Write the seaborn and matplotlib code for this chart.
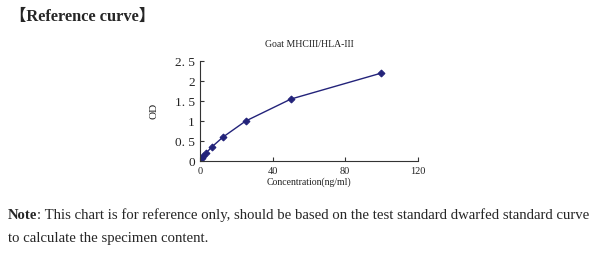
import matplotlib
matplotlib.use("Agg")
import matplotlib.pyplot as plt
import seaborn as sns
import pandas as pd

conc = [0, 0.78, 1.56, 3.125, 6.25, 12.5, 25, 50, 100]
od = [0.05, 0.08, 0.12, 0.2, 0.35, 0.6, 1.0, 1.55, 2.2]
xticks = [0, 40, 80, 120]
yticks = [0, 0.5, 1, 1.5, 2, 2.5]
ytick_labels = ["0", "0. 5", "1", "1. 5", "2", "2. 5"]

sns.set_theme(style="white")
plt.rcParams['font.family'] = ['Liberation Serif', 'DejaVu Serif']

df = pd.DataFrame({"conc": conc, "od": od})
fig = plt.figure(figsize=(6, 2.61), dpi=100)
ax = fig.add_axes([0.334, 0.383, 0.362, 0.383])
color = "#23237a"
sns.lineplot(data=df, x="conc", y="od", ax=ax, color=color, linewidth=1.0,
             marker="D", markersize=3.5, markeredgecolor=color, markerfacecolor=color)
ax.set_xlim(0, 120)
ax.set_ylim(0, 2.5)
ax.set_xticks(xticks)
ax.set_xticklabels([str(t) for t in xticks], fontsize=7.5)
ax.set_yticks(yticks)
ax.set_yticklabels(ytick_labels, fontsize=9.5)
ax.tick_params(axis="both", direction="in", length=3, width=0.8, color="#333333", pad=4)
ax.tick_params(axis="x", bottom=True, labelcolor="#222222")
ax.tick_params(axis="y", left=True, labelcolor="#222222")
for s in ["top", "right"]:
    ax.spines[s].set_visible(False)
for s in ["left", "bottom"]:
    ax.spines[s].set_color("#333333")
    ax.spines[s].set_linewidth(0.8)
ax.set_xlabel("Concentration(ng/ml)", fontsize=7, labelpad=1, color="#222222")
ax.set_ylabel("OD", fontsize=8, labelpad=12, color="#222222")
ax.set_title("Goat MHCIII/HLA-III", fontsize=7, pad=10, color="#222222")

fig.text(0.016, 0.935, "【Reference curve】", fontsize=11.8, fontweight="bold",
         va="center", ha="left", family=['Liberation Serif', 'Noto Sans CJK SC'])
t_note = fig.text(0.013, 0.175, "Note", fontsize=10.6, fontweight="bold", va="center", ha="left")
fig.canvas.draw()
bb = t_note.get_window_extent(renderer=fig.canvas.get_renderer())
x_next = bb.x1 / fig.bbox.width
fig.text(x_next, 0.175,
         ": This chart is for reference only, should be based on the test standard dwarfed standard curve",
         fontsize=10.6, va="center", ha="left")
fig.text(0.013, 0.088, "to calculate the specimen content.", fontsize=10.6, va="center", ha="left")

fig.savefig("out.png", dpi=100)
